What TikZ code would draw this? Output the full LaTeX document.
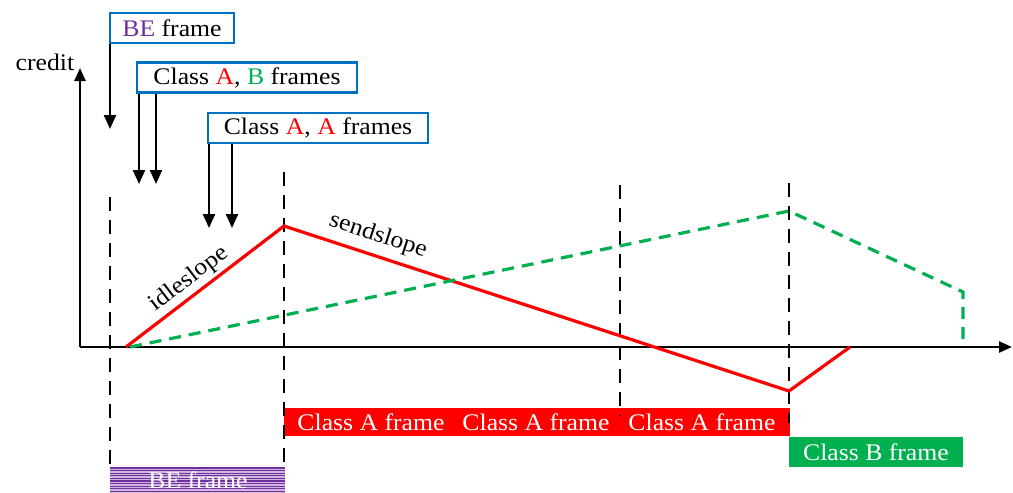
\documentclass[tikz,border=0pt]{standalone}
\usepackage{fontspec}
\setmainfont{Liberation Serif}[FakeStretch=1.08]
\usetikzlibrary{arrows.meta,calc}
\definecolor{cred}{RGB}{255,0,0}
\definecolor{cgreen}{RGB}{0,176,80}
\definecolor{cpurple}{RGB}{112,48,160}
\definecolor{cblue}{RGB}{0,112,192}
\tikzset{
  txt/.style={font=\fontsize{23.8}{27}\selectfont, inner sep=0pt},
  labbox/.style={txt, draw=cblue, line width=2.3pt, fill=white, minimum height=30pt},
  arr/.style={line width=2.3pt, -{Triangle[length=14pt,width=12pt]}},
  axis/.style={line width=2.5pt, -{Triangle[length=13pt,width=11pt]}},
  vdash/.style={line width=2.5pt, dash pattern=on 14pt off 9pt},
  redline/.style={cred, line width=3.2pt, line join=miter},
  greenline/.style={cgreen, line width=3.2pt, dash pattern=on 12pt off 8pt},
  bar/.style={inner sep=0pt, draw=none},
  bartxt/.style={txt, text=white},
}
\begin{document}
\begin{tikzpicture}[x=1pt,y=-1pt]
\fill[white] (0,0) rectangle (1013,493);
\useasboundingbox (0,0) rectangle (1013,493);

% bars
\node[bar, fill=cred, minimum width=506pt, minimum height=28pt] (redbar) at (537,422) {};
\node[bar, fill=cgreen, minimum width=174pt, minimum height=30pt] (greenbar) at (876,452) {};
\node[bar, fill=cpurple!35!white, minimum width=175pt, minimum height=26pt] (bebar) at (197.5,480) {};
\foreach \k in {468,470.6,...,493} \draw[cpurple, line width=1.1pt] (110,\k) -- (285,\k);
\node[bartxt] (ta1) at (371,422) {Class A frame};
\node[bartxt] (ta2) at (536,422) {Class A frame};
\node[bartxt] (ta3) at (702,422) {Class A frame};
\node[bartxt] (tb) at (876,452) {Class B frame};
\node[bartxt] (tbe) at (198,480) {BE frame};

% axes
\coordinate (O) at (80,347);
\coordinate (ytip) at (80,68);
\coordinate (xtip) at (1012,347);
\draw[axis] (O) -- (ytip);
\draw[axis] (O) -- (xtip);
\node[txt] (credit) at (45,62) {credit};

% dashed verticals
\coordinate (d1t) at (110,197); \coordinate (d1b) at (110,467);
\coordinate (d2t) at (284,172); \coordinate (d2b) at (284,467);
\coordinate (d3t) at (620,185); \coordinate (d3b) at (620,416);
\coordinate (d4t) at (789,183); \coordinate (d4b) at (789,423);
\draw[vdash] (d1t) -- (d1b);
\draw[vdash] (d2t) -- (d2b);
\draw[vdash] (d3t) -- (d3b);
\draw[vdash] (d4t) -- (d4b);

% curves
\coordinate (r0) at (126,347);
\coordinate (r1) at (284,226);
\coordinate (r2) at (789,391);
\coordinate (r3) at (850,347);
\draw[redline] (r0) -- (r1) -- (r2) -- (r3);
\coordinate (g0) at (130,347);
\coordinate (g1) at (789,211);
\coordinate (g2) at (963,292);
\coordinate (g3) at (963,347);
\draw[greenline] (g0) -- (g1) -- (g2) -- (g3);

\node[txt, rotate=37.4] (idle) at (189,279) {idleslope};
\node[txt, rotate=-18.1] (send) at (378,236) {sendslope};

% label boxes
\node[labbox, minimum width=124pt] (bebox) at (172,28) {\textcolor{cpurple}{BE} frame};
\node[labbox, minimum width=220pt] (abbox) at (247,77.5) {Class \textcolor{cred}{A}, \textcolor{cgreen}{B} frames};
\node[labbox, minimum width=220pt] (aabox) at (318,128) {Class \textcolor{cred}{A}, \textcolor{cred}{A} frames};

\coordinate (a1) at (110,129);
\coordinate (a2) at (139,184);
\coordinate (a3) at (156,184);
\coordinate (a4) at (209,228);
\coordinate (a5) at (232,228);
\draw[arr] (a1 |- bebox.south) -- (a1);
\draw[arr] (a2 |- abbox.south) -- (a2);
\draw[arr] (a3 |- abbox.south) -- (a3);
\draw[arr] (a4 |- aabox.south) -- (a4);
\draw[arr] (a5 |- aabox.south) -- (a5);
\end{tikzpicture}
\end{document}
